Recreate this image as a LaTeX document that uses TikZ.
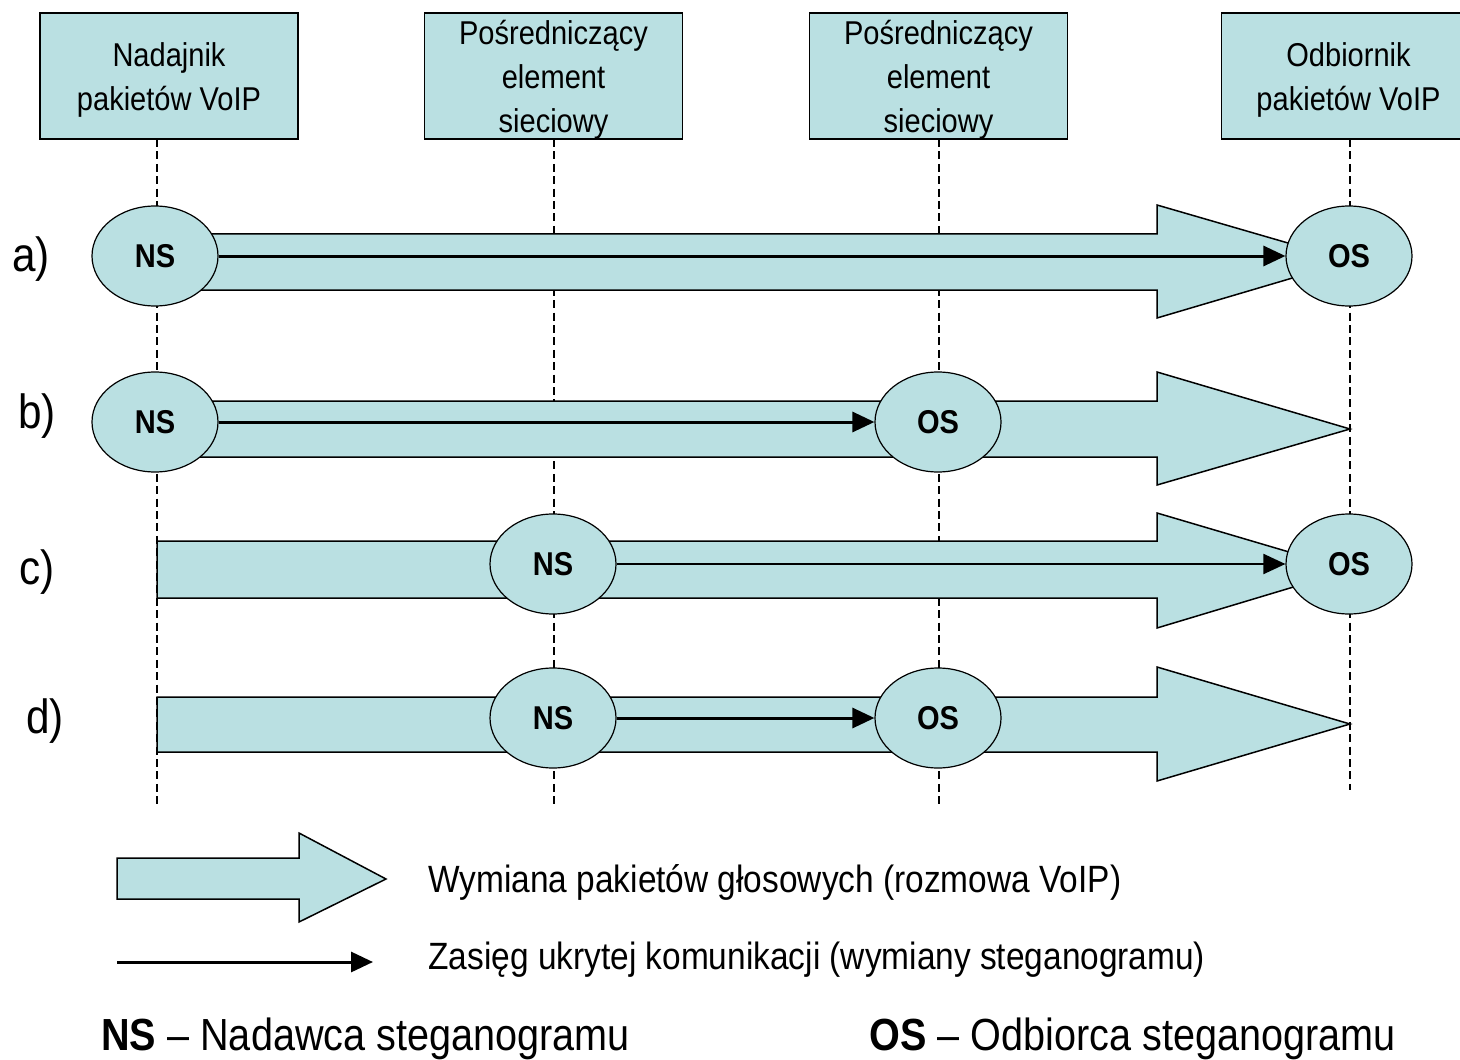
\documentclass[tikz,border=0pt]{standalone}
\usepackage{fontspec}
\setmainfont[FakeStretch=0.88]{Liberation Sans}
\usetikzlibrary{shapes.geometric,arrows.meta}
\definecolor{cyanfill}{RGB}{186,224,226}
\tikzset{
  hdr/.style={draw=black,line width=0.75pt,fill=cyanfill,minimum width=129pt,minimum height=63pt,inner sep=0pt},
  hdrtxt/.style={inner sep=0pt,align=center,font=\fontsize{16.5}{22}\selectfont},
  life/.style={draw=black,line width=0.6pt,dash pattern=on 4pt off 2.2pt},
  bigarr/.style={draw=black,line width=0.75pt,fill=cyanfill},
  ell/.style={ellipse,draw=black,line width=0.6pt,fill=cyanfill,minimum width=63pt,minimum height=50pt,inner sep=0pt,font=\fontsize{16.5}{18}\selectfont\bfseries},
  secret/.style={draw=black,line width=1.5pt,-{Triangle[length=11pt,width=10pt]}},
  rowlbl/.style={font=\fontsize{24}{26}\selectfont,inner sep=0pt},
  legtxt/.style={font=\fontsize{19}{22}\selectfont,anchor=west,inner sep=0pt},
  bottxt/.style={font=\fontsize{22.5}{26}\selectfont,anchor=base west,inner sep=0pt}
}
\begin{document}
\begin{tikzpicture}[x=0.5pt,y=-0.5pt]
\useasboundingbox (0,0) rectangle (1460,1059);
\clip (0,0) rectangle (1460,1059);

% header boxes
\node[hdr] (h1) at (169,76) {};
\node[hdr] (h2) at (553.5,76) {};
\node[hdr] (h3) at (938.5,76) {};
\node[hdr] (h4) at (1350.5,76) {};
\node[hdrtxt] (h1t) at ([yshift=-1.9pt]h1.center) {Nadajnik\\pakietów VoIP};
\node[hdrtxt] (h2t) at ([yshift=-1.9pt]h2.center) {Pośredniczący\\element\\sieciowy};
\node[hdrtxt] (h3t) at ([yshift=-1.9pt]h3.center) {Pośredniczący\\element\\sieciowy};
\node[hdrtxt] (h4t) at ([yshift=-1.9pt,xshift=-1pt]h4.center) {Odbiornik\\pakietów VoIP};

% lifelines
\coordinate (e1) at (157,806);
\coordinate (e2) at (554,806);
\coordinate (e3) at (939,806);
\coordinate (e4) at (1350,790);
\draw[life] (157,139) -- (e1);
\draw[life] (554,139) -- (e2);
\draw[life] (939,139) -- (e3);
\draw[life] (1350,139) -- (e4);

% big arrows
\draw[bigarr] (160,234) -- (1157,234) -- (1157,205) -- (1350,261) -- (1157,318) -- (1157,290) -- (160,290) -- cycle;
\draw[bigarr] (160,401) -- (1157,401) -- (1157,372) -- (1350,429) -- (1157,485) -- (1157,457) -- (160,457) -- cycle;
\draw[bigarr] (157,541) -- (1157,541) -- (1157,513) -- (1350,570) -- (1157,628) -- (1157,598) -- (157,598) -- cycle;
\draw[bigarr] (157,697) -- (1157,697) -- (1157,667) -- (1350,724) -- (1157,781) -- (1157,752) -- (157,752) -- cycle;

% ellipses
\node[ell] (nsA) at (155,256) {NS};
\node[ell] (osA) at (1349,256) {OS};
\node[ell] (nsB) at (155,422) {NS};
\node[ell] (osB) at (938,422) {OS};
\node[ell] (nsC) at (553,564) {NS};
\node[ell] (osC) at (1349,564) {OS};
\node[ell] (nsD) at (553,718) {NS};
\node[ell] (osD) at (938,718) {OS};

% covert communication arrows
\draw[secret] (nsA.east) -- (osA.west);
\draw[secret] (nsB.east) -- (osB.west);
\draw[secret,line width=1pt] (nsC.east) -- (osC.west);
\draw[secret] (nsD.east) -- (osD.west);

% row labels
\node[rowlbl] (la) at (31,259) {a)};
\node[rowlbl] (lb) at (37,416) {b)};
\node[rowlbl] (lc) at (37,572) {c)};
\node[rowlbl] (ld) at (45,721) {d)};

% legend
\draw[bigarr] (117,858) -- (299,858) -- (299,833) -- (386,879) -- (299,922) -- (299,899) -- (117,899) -- cycle;
\node[legtxt] (t1) at (428,882) {Wymiana pakietów głosowych (rozmowa VoIP)};
\coordinate (s0) at (117,962);
\coordinate (s1) at (373,962);
\draw[secret] (s0) -- (s1);
\node[legtxt] (t2) at (428,960) {Zasięg ukrytej komunikacji (wymiany steganogramu)};

% bottom
\node[bottxt] (bn) at (101,1050) {\textbf{NS} – Nadawca steganogramu};
\node[bottxt] (bo) at (869,1050) {\textbf{OS} – Odbiorca steganogramu};
\end{tikzpicture}
\end{document}
